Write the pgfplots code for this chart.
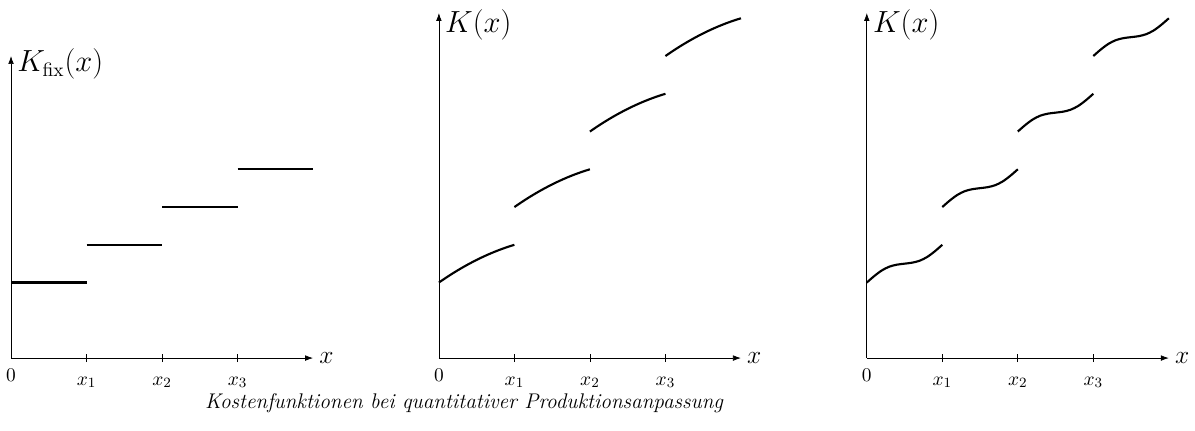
\documentclass[border=0pt]{standalone}
\usepackage{pgfplots}
\pgfplotsset{compat=1.18}
\usetikzlibrary{arrows.meta}

\pgfplotsset{
  panel/.style={
    anchor=origin,
    x=1.5cm, y=1.5cm,
    xmin=0, xmax=4, ymin=0, ymax=4.57,
    enlargelimits=false,
    clip=false,
    axis lines=left,
    axis line style={line width=0.4pt, -{Latex[length=4.5pt,width=3.2pt]}},
    xtick={1,2,3},
    xticklabels={$x_1$,$x_2$,$x_3$},
    extra x ticks={0},
    extra x tick labels={$0$},
    extra x tick style={major tick length=0pt},
    ytick=\empty,
    tick align=center,
    major tick length=4.5pt,
    tick style={line width=0.4pt, black},
    tick label style={font=\fontsize{11}{13.5}\selectfont},
    typeset ticklabels with strut,
    every axis x label/.style={at={(rel axis cs:1,0)}, anchor=west,
      font=\fontsize{15}{18}\selectfont},
    every axis y label/.style={at={(rel axis cs:0,1)}, anchor=base west,
      yshift=-11.3pt, font=\fontsize{16}{19}\selectfont},
    xlabel={$x$},
    every axis plot post/.append style={black, line width=1.2pt, mark=none},
  },
}

\begin{document}
\begin{tikzpicture}
% fixed costs: step function
\begin{axis}[panel, at={(0,0)}, ymax=4, ylabel={$K_{\mathrm{fix}}(x)$},
  every axis y label/.append style={yshift=2.3pt}]
  \addplot coordinates {(0,1.0) (1,1.0)};
  \addplot coordinates {(1,1.5) (2,1.5)};
  \addplot coordinates {(2,2.0) (3,2.0)};
  \addplot coordinates {(3,2.5) (4,2.5)};
\end{axis}

% total costs, concave pieces
\begin{axis}[panel, at={(8.5cm,0)}, ylabel={$K(x)$}]
  \addplot[smooth] coordinates {(0,1.000) (0.1,1.068) (0.2,1.132) (0.3,1.192) (0.4,1.248) (0.5,1.300) (0.6,1.348) (0.7,1.392) (0.8,1.432) (0.9,1.468) (1,1.500)};
  \addplot[smooth] coordinates {(1,2.000) (1.1,2.068) (1.2,2.132) (1.3,2.192) (1.4,2.248) (1.5,2.300) (1.6,2.348) (1.7,2.392) (1.8,2.432) (1.9,2.468) (2,2.500)};
  \addplot[smooth] coordinates {(2,3.000) (2.1,3.068) (2.2,3.132) (2.3,3.192) (2.4,3.248) (2.5,3.300) (2.6,3.348) (2.7,3.392) (2.8,3.432) (2.9,3.468) (3,3.500)};
  \addplot[smooth] coordinates {(3,4.000) (3.1,4.068) (3.2,4.132) (3.3,4.192) (3.4,4.248) (3.5,4.300) (3.6,4.348) (3.7,4.392) (3.8,4.432) (3.9,4.468) (4,4.500)};
\end{axis}

% total costs, S-shaped pieces
\begin{axis}[panel, at={(17cm,0)}, ylabel={$K(x)$}]
  \addplot[smooth] coordinates {(0,1.000) (0.1,1.087) (0.2,1.161) (0.3,1.211) (0.4,1.237) (0.5,1.250) (0.6,1.263) (0.7,1.289) (0.8,1.339) (0.9,1.413) (1,1.500)};
  \addplot[smooth] coordinates {(1,2.000) (1.1,2.087) (1.2,2.161) (1.3,2.211) (1.4,2.237) (1.5,2.250) (1.6,2.263) (1.7,2.289) (1.8,2.339) (1.9,2.413) (2,2.500)};
  \addplot[smooth] coordinates {(2,3.000) (2.1,3.087) (2.2,3.161) (2.3,3.211) (2.4,3.237) (2.5,3.250) (2.6,3.263) (2.7,3.289) (2.8,3.339) (2.9,3.413) (3,3.500)};
  \addplot[smooth] coordinates {(3,4.000) (3.1,4.087) (3.2,4.161) (3.3,4.211) (3.4,4.237) (3.5,4.250) (3.6,4.263) (3.7,4.289) (3.8,4.339) (3.9,4.413) (4,4.500)};
\end{axis}

\node[anchor=base] at (9cm,-1.01cm)
  {\fontsize{12}{14}\selectfont\itshape Kostenfunktionen bei quantitativer Produktionsanpassung};

\pgfresetboundingbox
\useasboundingbox (-0.219cm,-1.431cm) rectangle (23.52cm,7.113cm);
\end{tikzpicture}
\end{document}
